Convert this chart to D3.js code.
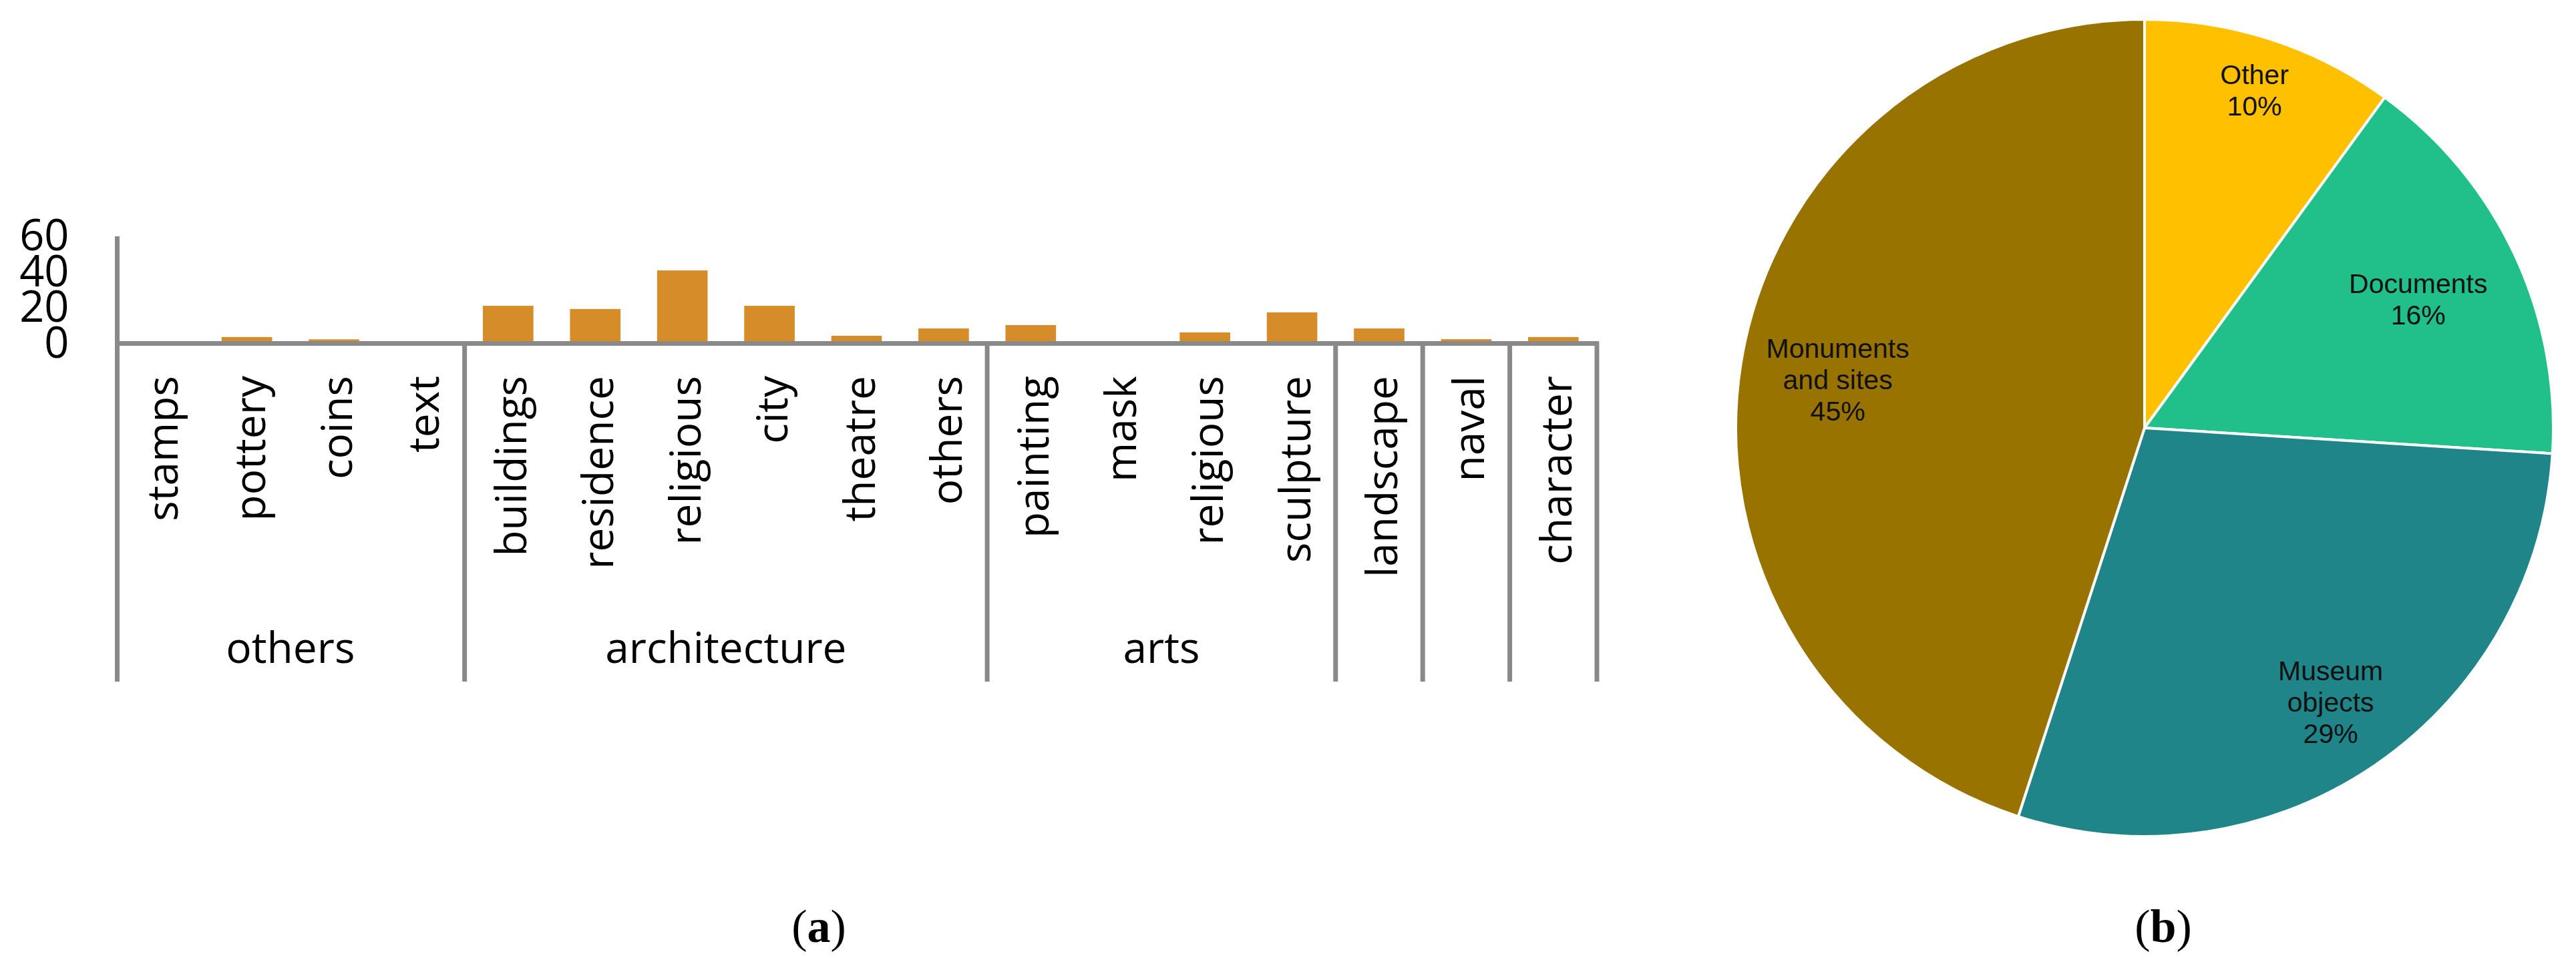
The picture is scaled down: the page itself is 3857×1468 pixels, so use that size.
<!DOCTYPE html>
<html>
<meta charset="utf-8">
<style>
    body{ margin: 0; background: #fff; }
    svg{ display: block; }
</style>
<body>
<svg width="3857" height="1468"></svg>
<script src="https://d3js.org/d3.v7.min.js"></script>
<script>

    // bar chart data (a)
    const categories = ["stamps", "pottery", "coins", "text", "buildings", "residence", "religious", "city",
        "theatre", "others", "painting", "mask", "religious", "sculpture", "landscape", "naval", "character"];
    const counts = [0, 3.6, 2.3, 0, 21.1, 19.3, 40.9, 21.1, 4.3, 8.4, 10.3, 0, 6.2, 17.4, 8.4, 2.4, 3.6];
    const groupNames = ["others", "architecture", "arts", "", "", ""];
    const groupSizes = [4, 6, 4, 1, 1, 1];
    const yTicks = [0, 20, 40, 60];

    // pie chart data (b)
    const pieNames = ["Other", "Documents", "Museum objects", "Monuments and sites"];
    const pieLines = [["Other"], ["Documents"], ["Museum", "objects"], ["Monuments", "and sites"]];
    const pieShares = [10, 16, 29, 45];
    const pieColors = ["#ffc000", "#21c08b", "#1f8589", "#997300"];

    let svg = d3.select("svg");
    const gray = "#898989", barColor = "#d78c2a";

    // ---------- (a) bar chart ----------
    let left = 174, right = 2391, sepBottom = 1021;

    let x = d3.scaleBand()
        .domain(d3.range(categories.length))
        .range([left, right])
        .paddingInner(0.42)
        .paddingOuter(0.21);

    let y = d3.scaleLinear()
        .domain([0, 60])
        .range([514.5, 354]);

    let step = x.step();
    let bandStart = i => x(i) - step * 0.21;

    let g = svg.append("g");

    g.selectAll("rect.bar")
        .data(counts)
        .enter().append("rect")
        .attr("class", "bar")
        .attr("x", (d, i) => x(i))
        .attr("y", d => y(d))
        .attr("width", x.bandwidth())
        .attr("height", d => y(0) - y(d))
        .attr("fill", barColor);

    // y axis
    let yAxis = g.append("g")
        .attr("transform", "translate(175.5,0)")
        .call(d3.axisLeft(y).tickValues(yTicks).tickSize(0).tickPadding(72));
    yAxis.select(".domain").remove();
    yAxis.selectAll("text")
        .attr("font-family", "Open Sans")
        .attr("font-size", 65)
        .attr("fill", "#000");

    // axis lines
    g.append("line")
        .attr("x1", 175.5).attr("x2", 175.5)
        .attr("y1", y(60)).attr("y2", sepBottom)
        .attr("stroke", gray).attr("stroke-width", 7);
    g.append("line")
        .attr("x1", left - 2).attr("x2", right + 3)
        .attr("y1", y(0)).attr("y2", y(0))
        .attr("stroke", gray).attr("stroke-width", 7);

    // group separators and labels
    let groups = [], start = 0;
    groupSizes.forEach((n, k) => {
        groups.push({name: groupNames[k], from: start, to: start + n - 1});
        start += n;
    });

    g.selectAll("line.sep")
        .data(groups)
        .enter().append("line")
        .attr("class", "sep")
        .attr("x1", d => bandStart(d.to) + step)
        .attr("x2", d => bandStart(d.to) + step)
        .attr("y1", y(0) - 2)
        .attr("y2", sepBottom)
        .attr("stroke", gray).attr("stroke-width", 7);

    g.selectAll("text.group")
        .data(groups)
        .enter().append("text")
        .attr("class", "group")
        .attr("x", d => (bandStart(d.from) + bandStart(d.to) + step) / 2)
        .attr("y", 993)
        .attr("text-anchor", "middle")
        .attr("font-family", "Open Sans")
        .attr("font-size", 64)
        .attr("fill", "#000")
        .text(d => d.name);

    // category labels (rotated)
    g.selectAll("text.cat")
        .data(categories)
        .enter().append("text")
        .attr("class", "cat")
        .attr("transform", (d, i) => "translate(" + (x(i) + x.bandwidth() / 2) + ",563) rotate(-90)")
        .attr("x", 0)
        .attr("y", 27)
        .attr("text-anchor", "end")
        .attr("font-family", "Open Sans")
        .attr("font-size", 64)
        .attr("fill", "#000")
        .text(d => d);

    // ---------- (b) pie chart ----------
    let cx = 3211, cy = 641, radius = 612;
    // label distance from centre, as fraction of the radius
    let labelPos = {"Other": 0.87, "Documents": 0.74, "Museum objects": 0.81, "Monuments and sites": 0.76};

    let pie = d3.pie().sort(null).value(d => d.value);
    let pieData = pie(pieNames.map((n, i) => ({name: n, value: pieShares[i], lines: pieLines[i], color: pieColors[i]})));
    let arc = d3.arc().innerRadius(0).outerRadius(radius);

    let pg = svg.append("g").attr("transform", "translate(" + cx + "," + cy + ")");

    pg.selectAll("path")
        .data(pieData)
        .enter().append("path")
        .attr("d", arc)
        .attr("fill", d => d.data.color)
        .attr("stroke", "#fff")
        .attr("stroke-width", 4)
        .attr("stroke-linejoin", "round");

    let fs = 41, lh = 47, cap = 0.716 * fs;
    let labels = pg.selectAll("text.pl")
        .data(pieData)
        .enter().append("text")
        .attr("class", "pl")
        .attr("text-anchor", "middle")
        .attr("font-family", "Liberation Sans")
        .attr("font-size", fs)
        .attr("fill", "#111")
        .attr("transform", d => {
            let f = labelPos[d.data.name];
            let c = d3.arc().innerRadius(radius * f).outerRadius(radius * f).centroid(d);
            let n = d.data.lines.length + 1;
            let total = cap + lh * (n - 1);
            return "translate(" + c[0] + "," + (c[1] - total / 2 + cap) + ")";
        });

    labels.each(function (d) {
        let t = d3.select(this);
        d.data.lines.concat([d.data.value + "%"]).forEach((line, i) => {
            t.append("tspan").attr("x", 0).attr("y", i * lh).text(line);
        });
    });

    // panel captions
    [["a", 1226], ["b", 3239]].forEach(p => {
        let t = svg.append("text")
            .attr("x", p[1])
            .attr("y", 1411)
            .attr("text-anchor", "middle")
            .attr("font-family", "Liberation Serif")
            .attr("font-size", 70)
            .attr("fill", "#000");
        t.append("tspan").text("(");
        t.append("tspan").attr("font-weight", "bold").text(p[0]);
        t.append("tspan").text(")");
    });

</script>
</body>
</html>
